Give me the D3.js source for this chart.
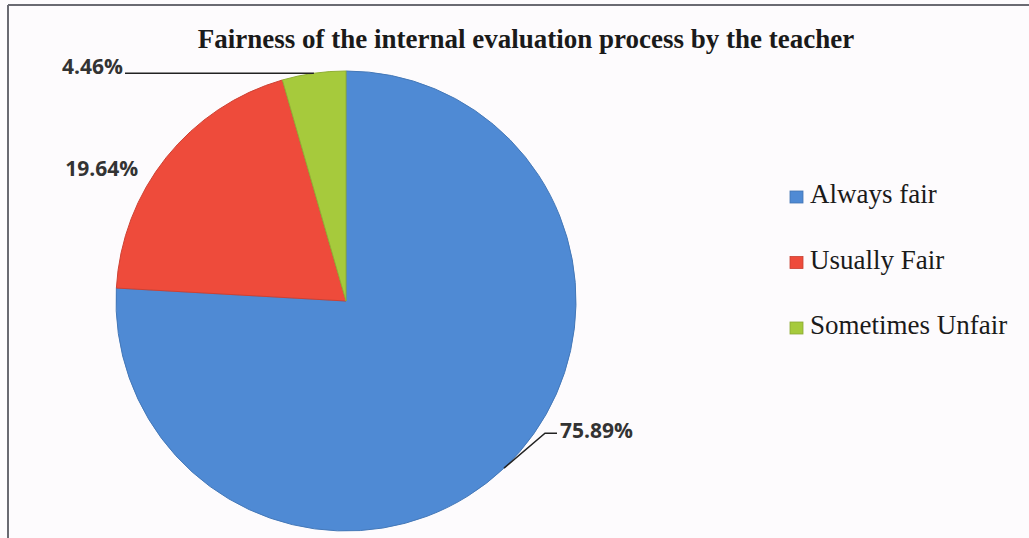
<!DOCTYPE html>
<html>
<head>
<meta charset="utf-8">
<script src="https://cdn.jsdelivr.net/npm/d3@7"></script>
<style>
  body { margin: 0; background: #fdfbfd; }
  .title { font-family: "Liberation Serif", serif; font-weight: bold; font-size: 27px; fill: #1a1a1a; }
  .pct { font-family: "Open Sans", sans-serif; font-weight: bold; font-size: 21px; fill: #333; }
  .legend-text { font-family: "Liberation Serif", serif; font-size: 27px; fill: #1a1a1a; }
</style>
</head>
<body>
<svg id="chart"></svg>
<script>
// data
const categories = ['Always fair', 'Usually Fair', 'Sometimes Unfair'];
const values = [75.89, 19.64, 4.46];
const colors = ['#4f8ad4', '#ee4b3b', '#a6ca3c'];

const width = 1029, height = 538;
const cx = 346, cy = 301, radius = 230;

const svg = d3.select('#chart')
  .attr('width', width)
  .attr('height', height);

// frame (only top and left edges visible in the scan)
svg.append('line').attr('x1', 8).attr('y1', 5).attr('x2', width).attr('y2', 5)
  .attr('stroke', '#6a6a72').attr('stroke-width', 2);
svg.append('line').attr('x1', 8).attr('y1', 5).attr('x2', 8).attr('y2', height)
  .attr('stroke', '#6a6a72').attr('stroke-width', 2);

svg.append('text')
  .attr('class', 'title')
  .attr('x', 526)
  .attr('y', 48)
  .attr('text-anchor', 'middle')
  .text('Fairness of the internal evaluation process by the teacher');

const pie = d3.pie().sort(null).value(d => d);
const arcs = pie(values);
const arc = d3.arc().innerRadius(0).outerRadius(radius);

const chart = svg.append('g')
  .attr('transform', `translate(${cx},${cy})`);

chart.selectAll('path')
  .data(arcs)
  .enter()
  .append('path')
  .attr('d', arc)
  .attr('fill', (d, i) => colors[i])
  .attr('stroke', (d, i) => d3.color(colors[i]).darker(0.4))
  .attr('stroke-width', 1);

// percentage labels
const pointAt = (a, r) => [Math.sin(a) * r, -Math.cos(a) * r];
const midAngle = d => (d.startAngle + d.endAngle) / 2;

// 75.89% - leader line from middle of blue arc to the lower right
{
  const p0 = pointAt(midAngle(arcs[0]), radius);
  const p1 = [p0[0] + 41, p0[1] - 35];
  const p2 = [p1[0] + 12, p1[1]];
  chart.append('polyline')
    .attr('points', [p0, p1, p2].map(p => p.join(',')).join(' '))
    .attr('fill', 'none').attr('stroke', '#222').attr('stroke-width', 1.5);
  chart.append('text').attr('class', 'pct')
    .attr('x', p2[0] + 3).attr('y', p2[1] + 5)
    .text(values[0].toFixed(2) + '%');
}

// 19.64% - placed outside the red slice without a line
{
  const p = pointAt(midAngle(arcs[1]), radius);
  chart.append('text').attr('class', 'pct')
    .attr('x', p[0] - 28).attr('y', p[1] + 18)
    .attr('text-anchor', 'end')
    .text(values[1].toFixed(2) + '%');
}

// 4.46% - horizontal leader line to the top of the green slice
{
  const p0 = pointAt(midAngle(arcs[2]), radius);
  const p1 = [-221, p0[1]];
  chart.append('line')
    .attr('x1', p0[0]).attr('y1', p0[1]).attr('x2', p1[0]).attr('y2', p1[1])
    .attr('stroke', '#222').attr('stroke-width', 1.5);
  chart.append('text').attr('class', 'pct')
    .attr('x', p1[0] - 2).attr('y', p1[1] + 1)
    .attr('text-anchor', 'end')
    .text(values[2].toFixed(2) + '%');
}

// legend
const legend = svg.append('g').attr('transform', 'translate(790,203)');
const rows = legend.selectAll('g')
  .data(categories)
  .enter()
  .append('g')
  .attr('transform', (d, i) => `translate(0,${i * 65.5})`);

rows.append('rect')
  .attr('x', 0).attr('y', -12).attr('width', 13).attr('height', 12)
  .attr('fill', (d, i) => colors[i])
  .attr('stroke', (d, i) => d3.color(colors[i]).darker(0.5))
  .attr('stroke-width', 0.8);

rows.append('text')
  .attr('class', 'legend-text')
  .attr('x', 20).attr('y', 0)
  .text(d => d);
</script>
</body>
</html>
